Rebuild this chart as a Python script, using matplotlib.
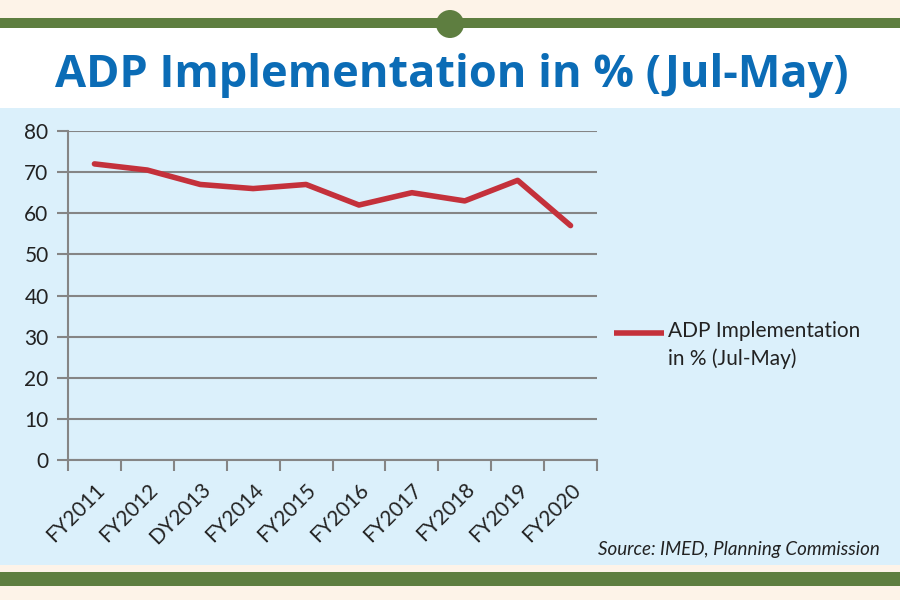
import matplotlib.pyplot as plt
from matplotlib.patches import Rectangle, Circle

# data
years = ['FY2011', 'FY2012', 'DY2013', 'FY2014', 'FY2015',
         'FY2016', 'FY2017', 'FY2018', 'FY2019', 'FY2020']
adp = [72, 70.5, 67, 66, 67, 62, 65, 63, 68, 57]
yticks = [0, 10, 20, 30, 40, 50, 60, 70, 80]
series_name = 'ADP Implementation\nin % (Jul-May)'

plt.rcParams['font.family'] = ['Lato', 'DejaVu Sans']

fig = plt.figure(figsize=(9, 6), dpi=100)
fig.patch.set_facecolor('#fdf3e8')

# background layer in pixel coords
bg = fig.add_axes([0, 0, 1, 1], zorder=-1)
bg.set_xlim(0, 900)
bg.set_ylim(600, 0)
bg.axis('off')
bg.add_patch(Rectangle((0, 108), 900, 457, facecolor='#dbf0fb', edgecolor='none'))
bg.add_patch(Rectangle((0, 28), 900, 80, facecolor='#ffffff', edgecolor='none'))
bg.add_patch(Rectangle((0, 18), 900, 10, facecolor='#5e7e40', edgecolor='none'))
bg.add_patch(Rectangle((0, 572), 900, 14, facecolor='#5e7e40', edgecolor='none'))
bg.add_patch(Circle((450, 24), 14, facecolor='#5e7e40', edgecolor='none'))

bg.text(452, 76, 'ADP Implementation in % (Jul-May)', ha='center', va='center',
        fontsize=32.5, fontweight='bold', color='#0b6cb6', family=['Open Sans', 'DejaVu Sans'])
bg.text(880, 550, 'Source: IMED, Planning Commission', ha='right', va='center',
        fontsize=13.5, style='italic', color='#222222')

# legend drawn by hand: handle sits on the first text line
bg.plot([614, 664], [333, 333], color='#c4313b', lw=4, solid_capstyle='butt')
bg.text(668, 321, series_name, ha='left', va='top', fontsize=15,
        color='#222222', linespacing=1.45)

ax = fig.add_axes([68/900, 1 - 460/600, (597-68)/900, (460-131)/600], zorder=1)
ax.set_facecolor('none')
x = list(range(len(years)))
ax.plot(x, adp, color='#c4313b', lw=4, solid_capstyle='round', solid_joinstyle='round')
ax.set_xlim(-0.5, len(years) - 0.5)
ax.set_ylim(0, 80)
ax.set_yticks(yticks)
ax.set_yticklabels([str(v) for v in yticks], fontsize=15, color='#222222')
ax.yaxis.grid(True, color='#858585', lw=1.5)
ax.set_axisbelow(True)
ax.tick_params(axis='y', length=8, color='#858585', width=1.5, pad=6)

ax.set_xticks([i - 0.5 for i in range(len(years) + 1)])
ax.set_xticklabels([])
ax.set_xticks(x, minor=True)
ax.set_xticklabels(years, minor=True, rotation=45, ha='right', rotation_mode='anchor',
                   fontsize=15, color='#222222')
ax.tick_params(axis='x', which='major', length=8, color='#858585', width=1.5)
ax.tick_params(axis='x', which='minor', length=0, pad=14)

for s in ['top', 'right']:
    ax.spines[s].set_visible(False)
for s in ['left', 'bottom']:
    ax.spines[s].set_color('#858585')
    ax.spines[s].set_linewidth(1.5)

fig.savefig('out.png', dpi=100, facecolor=fig.get_facecolor())
